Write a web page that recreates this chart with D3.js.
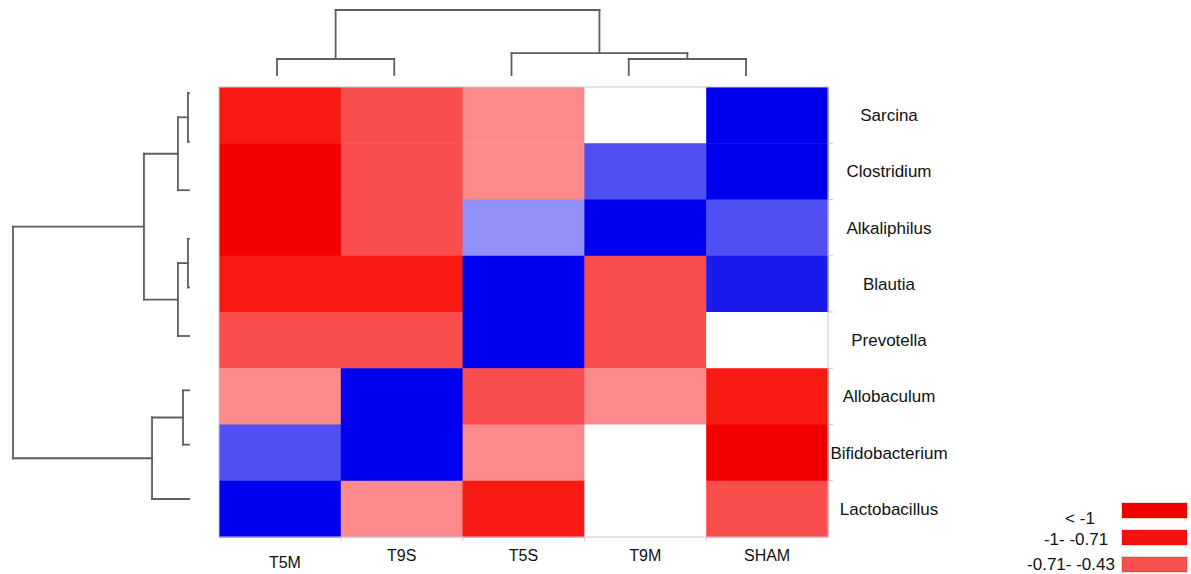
<!DOCTYPE html>
<html>
<head>
<meta charset="utf-8">
<script src="https://cdn.jsdelivr.net/npm/d3@7"></script>
<style>
  html, body { margin: 0; padding: 0; background: #fff; }
  svg { display: block; }
  text { font-family: "Liberation Sans", Arial, Helvetica, sans-serif; fill: #111; }
</style>
</head>
<body>
<svg id="chart" width="1191" height="574"></svg>
<script>
// Genera (rows) and groups (columns) in clustered order
const genera = ["Sarcina", "Clostridium", "Alkaliphilus", "Blautia", "Prevotella",
                "Allobaculum", "Bifidobacterium", "Lactobacillus"];
const groups = ["T5M", "T9S", "T5S", "T9M", "SHAM"];

// Scaled abundance per genus, one value per group (same order as groups)
const sarcina         = [-0.85, -0.60, -0.30,  0.00,  1.20];
const clostridium     = [-1.20, -0.60, -0.30,  0.60,  1.20];
const alkaliphilus    = [-1.20, -0.60,  0.30,  1.20,  0.60];
const blautia         = [-0.85, -0.85,  1.20, -0.60,  0.85];
const prevotella      = [-0.60, -0.60,  1.20, -0.60,  0.00];
const allobaculum     = [-0.30,  1.20, -0.60, -0.30, -0.85];
const bifidobacterium = [ 0.60,  1.20, -0.30,  0.00, -1.20];
const lactobacillus   = [ 1.20, -0.30, -0.85,  0.00, -0.60];
const values = [sarcina, clostridium, alkaliphilus, blautia, prevotella,
                allobaculum, bifidobacterium, lactobacillus];

// Colour bins
const binEdges  = [-1, -0.71, -0.43, -0.14, 0.14, 0.43, 0.71, 1];
const binColors = ["#f20000", "#f61a12", "#fa4d4d", "#fb8a8a", "#ffffff",
                   "#9191f8", "#4f4ff2", "#1a1aef", "#0000ee"];

// Legend entries
const legendLabels = ["< -1", "-1- -0.71", "-0.71- -0.43"];
const legendColors = ["#f20000", "#f21212", "#f85050"];

// Column dendrogram: merge heights (0..1), leaves are null
const colTree = { h: 1.0, children: [
  { h: 0.246, children: [null, null] },
  { h: 0.338, children: [null, { h: 0.246, children: [null, null] }] }
]};

// Row dendrogram: merge heights (0..1), leaves are null
const rowTree = { h: 1.0, children: [
  { h: 0.256, children: [
    { h: 0.063, children: [{ h: 0.006, children: [null, null] }, null] },
    { h: 0.063, children: [{ h: 0.006, children: [null, null] }, null] }
  ]},
  { h: 0.210, children: [{ h: 0.034, children: [null, null] }, null] }
]};

const svg = d3.select("#chart");
const color = d3.scaleThreshold().domain(binEdges).range(binColors);

// Heatmap scales
const x = d3.scaleBand().domain(groups).range([219, 828]);
const y = d3.scaleBand().domain(genera).range([87, 537]);

// Cells
const cells = [];
genera.forEach((g, i) => groups.forEach((c, j) => cells.push({ g, c, v: values[i][j] })));
svg.append("g").selectAll("rect").data(cells).join("rect")
  .attr("x", d => x(d.c))
  .attr("y", d => y(d.g))
  .attr("width", x.bandwidth() + 0.5)
  .attr("height", y.bandwidth() + 0.5)
  .attr("fill", d => color(d.v));

// Thin frame with ticks on the right and bottom
const frame = svg.append("g").attr("stroke", "#c8c8d0").attr("stroke-width", 1).attr("fill", "none");
frame.append("rect")
  .attr("x", x.range()[0]).attr("y", y.range()[0])
  .attr("width", x.range()[1] - x.range()[0])
  .attr("height", y.range()[1] - y.range()[0]);
frame.selectAll("line.rt").data(genera.slice(1)).join("line")
  .attr("x1", x.range()[1]).attr("x2", x.range()[1] + 5)
  .attr("y1", d => y(d)).attr("y2", d => y(d));
frame.selectAll("line.bt").data(groups.slice(1)).join("line")
  .attr("x1", d => x(d)).attr("x2", d => x(d))
  .attr("y1", y.range()[1]).attr("y2", y.range()[1] + 4);

// Row labels
svg.append("g").selectAll("text").data(genera).join("text")
  .attr("x", 889)
  .attr("y", d => y(d) + y.bandwidth() / 2)
  .attr("dy", "0.35em")
  .attr("text-anchor", "middle")
  .attr("font-size", 17)
  .text(d => d);

// Column labels
svg.append("g").selectAll("text").data(groups).join("text")
  .attr("x", (d, i) => x(d) + x.bandwidth() / 2 + (i === 0 ? 5 : 0))
  .attr("y", (d, i) => i === 0 ? 562 : 555)
  .attr("dy", "0.35em")
  .attr("text-anchor", "middle")
  .attr("font-size", 16)
  .text(d => d);

// Dendrogram drawing helper
function layoutTree(tree, leafPos) {
  const root = d3.hierarchy(tree, d => d ? d.children : null);
  let k = 0;
  root.eachAfter(n => {
    if (!n.children) { n.pos = leafPos(k++); n.h = 0; }
    else {
      n.h = n.data.h;
      n.pos = (n.children[0].pos + n.children[n.children.length - 1].pos) / 2;
    }
  });
  return root;
}

function elbowSegments(root, hScale) {
  const segs = [];
  root.each(n => {
    if (!n.children) return;
    const first = n.children[0], last = n.children[n.children.length - 1];
    segs.push({ p1: first.pos, p2: last.pos, h1: hScale(n.h), h2: hScale(n.h) });
    n.children.forEach(c => segs.push({ p1: c.pos, p2: c.pos, h1: hScale(n.h), h2: hScale(c.h) }));
  });
  return segs;
}

const dendroStyle = g => g.attr("stroke", "#5e5e5e").attr("stroke-width", 1.8)
  .attr("fill", "none").attr("stroke-linecap", "square");

// Column dendrogram (top)
const colLeaf = d3.scalePoint().domain(d3.range(5)).range([277, 746]);
const colH = d3.scaleLinear().domain([0, 1]).range([75, 10]);
const colRoot = layoutTree(colTree, i => colLeaf(i));
svg.append("g").call(dendroStyle).selectAll("line")
  .data(elbowSegments(colRoot, colH)).join("line")
  .attr("x1", d => d.p1).attr("x2", d => d.p2)
  .attr("y1", d => d.h1).attr("y2", d => d.h2);

// Row dendrogram (left)
const rowLeaf = d3.scaleLinear().domain([0, 5, 8]).range([93, 336, 499]);
const rowH = d3.scaleLinear().domain([0, 1]).range([189, 13]);
const rowRoot = layoutTree(rowTree, i => rowLeaf(i));
svg.append("g").call(dendroStyle).selectAll("line")
  .data(elbowSegments(rowRoot, rowH)).join("line")
  .attr("y1", d => d.p1).attr("y2", d => d.p2)
  .attr("x1", d => d.h1).attr("x2", d => d.h2);

// Legend: swatches on the right, labels to their left
const legY = d3.scalePoint().domain(legendLabels).range([503, 557]);
const legTextY = d3.scaleOrdinal().domain(legendLabels).range([524, 545, 570]);
const leg = svg.append("g");
leg.selectAll("rect").data(legendLabels).join("rect")
  .attr("x", 1122).attr("y", d => legY(d))
  .attr("width", 65).attr("height", 15)
  .attr("fill", (d, i) => legendColors[i])
  .attr("stroke", "#c01010").attr("stroke-opacity", 0.35);
leg.selectAll("text").data(legendLabels).join("text")
  .attr("x", (d, i) => [1080, 1076, 1071][i])
  .attr("y", d => legTextY(d))
  .attr("text-anchor", "middle")
  .attr("font-size", 17)
  .text(d => d);
</script>
</body>
</html>
